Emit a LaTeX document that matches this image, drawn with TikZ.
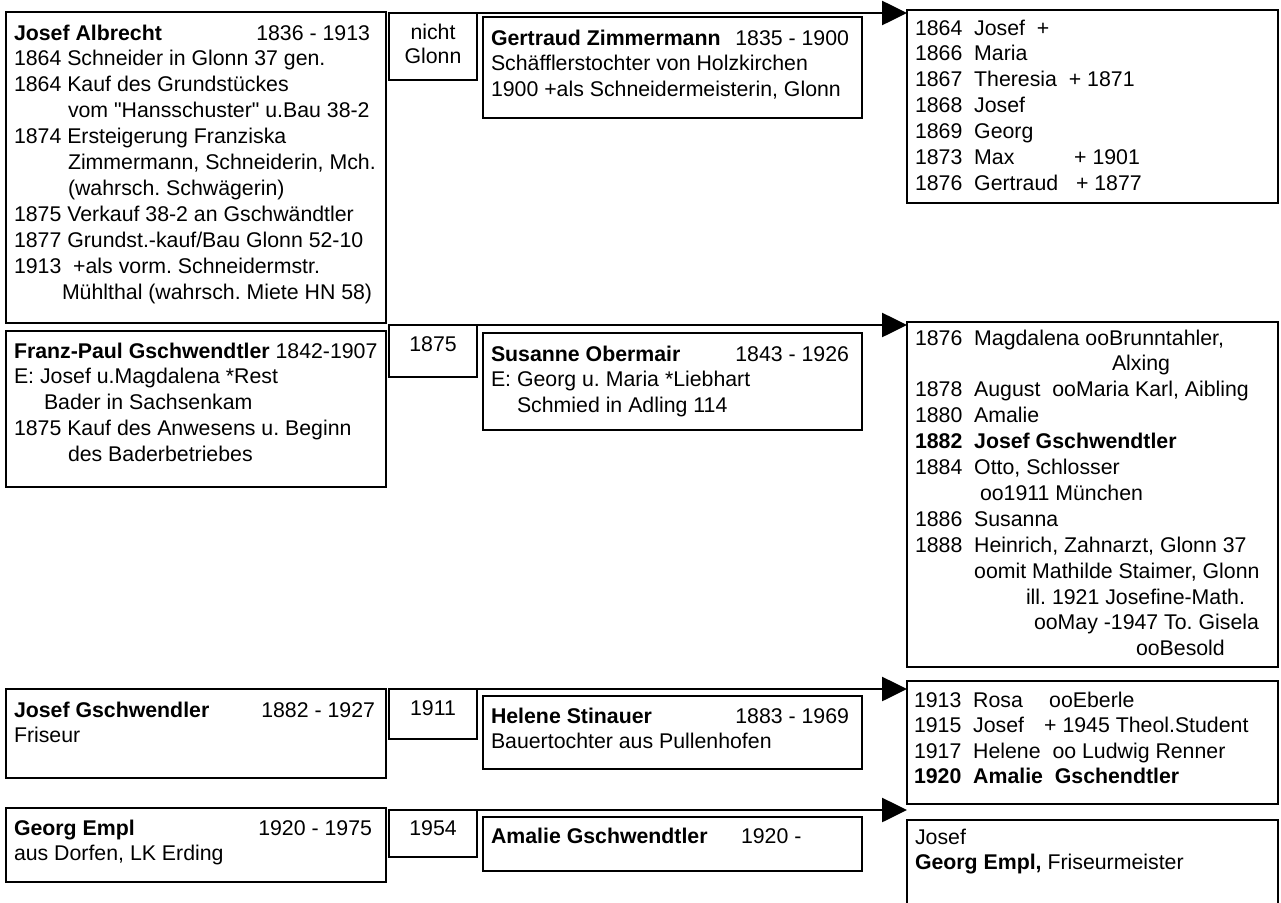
\documentclass[tikz,border=0pt]{standalone}
\usepackage{fontspec}
\setmainfont{Liberation Sans}[Ligatures=TeXOff]
\usetikzlibrary{arrows.meta}
\newcommand{\yr}[1]{\makebox[59.2pt][l]{#1}}
\newcommand{\fsz}{\fontsize{21.3}{25.9}\selectfont\frenchspacing}
\tikzset{
  box/.style={draw, line width=2.6pt, inner sep=0pt, outer sep=0pt, rectangle},
  txt/.style={inner sep=0pt, outer sep=0pt, font=\fsz},
  conn/.style={line width=2.6pt, -{Triangle[length=25pt,width=24pt]}},
}
\begin{document}
\begin{tikzpicture}[x=1pt,y=-1pt]
\useasboundingbox (0,0) rectangle (1281,902);
\clip (0,0) rectangle (1281,902);
% ---------- boxes ----------
\node[box, minimum width=380pt, minimum height=311pt] (A)  at (196,167.5) {};
\node[box, minimum width=88pt,  minimum height=67pt]  (yA) at (433,46.5) {};
\node[box, minimum width=379pt, minimum height=101pt] (sA) at (672.5,67.5) {};
\node[box, minimum width=371pt, minimum height=193pt] (cA) at (1092.5,106.5) {};

\node[box, minimum width=380pt, minimum height=156pt] (B)  at (196,409) {};
\node[box, minimum width=88pt,  minimum height=52pt]  (yB) at (433,351) {};
\node[box, minimum width=379pt, minimum height=97pt]  (sB) at (672.5,381.5) {};
\node[box, minimum width=371pt, minimum height=345pt] (cB) at (1092.5,494.5) {};

\node[box, minimum width=380pt, minimum height=89pt]  (C)  at (196,733.5) {};
\node[box, minimum width=88pt,  minimum height=50pt]  (yC) at (433,714) {};
\node[box, minimum width=379pt, minimum height=73pt]  (sC) at (672.5,732.5) {};
\node[box, minimum width=371pt, minimum height=123pt] (cC) at (1092.5,742.5) {};

\node[box, minimum width=380pt, minimum height=74pt]  (D)  at (196,845) {};
\node[box, minimum width=88pt,  minimum height=47pt]  (yD) at (433,833.5) {};
\node[box, minimum width=379pt, minimum height=54pt]  (sD) at (672.5,844) {};
\node[box, minimum width=371pt, minimum height=110pt] (cD) at (1092.5,875) {};

% ---------- connectors ----------
\draw[conn] (yA.north east) -- (yA.north east -| cA.west);
\draw[conn] (yB.north east) -- (yB.north east -| cB.west);
\draw[conn] (yC.north east) -- (yC.north east -| cC.west);
\draw[conn] (yD.north east) -- (yD.north east -| cD.west);

% ---------- row 1 ----------
\node[txt, anchor=base west] (At) at (14,40) {\parbox[t]{500pt}{\raggedright
\textbf{Josef Albrecht}\\
1864 Schneider in Glonn 37 gen.\\
1864 Kauf des Grundst\"uckes\\
\hspace*{54pt}vom "Hansschuster" u.Bau 38-2\\
1874 Ersteigerung Franziska\\
\hspace*{54pt}Zimmermann, Schneiderin, Mch.\\
\hspace*{54pt}(wahrsch. Schw\"agerin)\\
1875 Verkauf 38-2 an Gschw\"andtler\\
1877 Grundst.-kauf/Bau Glonn 52-10\\
1913\ \ +als vorm. Schneidermstr.\\
\hspace*{48pt}M\"uhlthal (wahrsch. Miete HN 58)}};
\node[txt, anchor=base east] (Ay) at (370,40) {1836 - 1913};
\node[txt, anchor=base] (yAt) at (433,39.5) {\parbox[t]{84pt}{\centering nicht\\[-2pt]Glonn}};
\node[txt, anchor=base west] (sAt) at (491,45) {\parbox[t]{500pt}{\raggedright
\textbf{Gertraud Zimmermann}\\
Sch\"afflerstochter von Holzkirchen\\
1900 +als Schneidermeisterin, Glonn}};
\node[txt, anchor=base east] (sAy) at (849,45) {1835 - 1900};
\node[txt, anchor=base west] (cAt) at (915,35) {\parbox[t]{500pt}{\raggedright
\yr{1864}Josef\ \ +\\
\yr{1866}Maria\\
\yr{1867}Theresia\ \ + 1871\\
\yr{1868}Josef\\
\yr{1869}Georg\\
\yr{1873}\makebox[100pt][l]{Max}+ 1901\\
\yr{1876}Gertraud\ \ \ + 1877}};

% ---------- row 2 ----------
\node[txt, anchor=base west] (Bt) at (14,358) {\parbox[t]{500pt}{\raggedright
\textbf{Franz-Paul Gschwendtler} 1842-1907\\
E: Josef u.Magdalena *Rest\\
\hspace*{30pt}Bader in Sachsenkam\\
1875 Kauf des Anwesens u. Beginn\\
\hspace*{54pt}des Baderbetriebes}};
\node[txt, anchor=base] (yBt) at (433,351) {1875};
\node[txt, anchor=base west] (sBt) at (491,361) {\parbox[t]{500pt}{\raggedright
\textbf{Susanne Obermair}\\
E: Georg u. Maria *Liebhart\\
\hspace*{26pt}Schmied in Adling 114}};
\node[txt, anchor=base east] (sBy) at (849,361) {1843 - 1926};
\node[txt, anchor=base west] (cBt) at (915,345) {\parbox[t]{500pt}{\raggedright
\yr{1876}Magdalena ooBrunntahler,\\
\hspace*{197pt}Alxing\\
\yr{1878}August\ \ ooMaria Karl, Aibling\\
\yr{1880}Amalie\\
\textbf{\yr{1882}Josef Gschwendtler}\\
\yr{1884}Otto, Schlosser\\
\hspace*{65pt}oo1911 M\"unchen\\
\yr{1886}Susanna\\
\yr{1888}Heinrich, Zahnarzt, Glonn 37\\
\hspace*{59.2pt}oomit Mathilde Staimer, Glonn\\
\hspace*{111pt}ill. 1921 Josefine-Math.\\
\hspace*{119pt}ooMay -1947 To. Gisela\\
\hspace*{221pt}ooBesold}};

% ---------- row 3 ----------
\node[txt, anchor=base west] (Ct) at (14,717) {\parbox[t]{500pt}{\raggedright
\textbf{Josef Gschwendler}\\
Friseur}};
\node[txt, anchor=base east] (Cy) at (375,717) {1882 - 1927};
\node[txt, anchor=base] (yCt) at (433,715) {1911};
\node[txt, anchor=base west] (sCt) at (491,723) {\parbox[t]{500pt}{\raggedright
\textbf{Helene Stinauer}\\
Bauertochter aus Pullenhofen}};
\node[txt, anchor=base east] (sCy) at (849,723) {1883 - 1969};
\node[txt, anchor=base west] (cCt) at (914,707) {\parbox[t]{500pt}{\raggedright
\yr{1913}\makebox[76pt][l]{Rosa}ooEberle\\[-0.3pt]
\yr{1915}\makebox[71pt][l]{Josef}+ 1945 Theol.Student\\[-0.3pt]
\yr{1917}Helene\ \ oo Ludwig Renner\\[-0.3pt]
\textbf{\yr{1920}Amalie\ \ Gschendtler}}};

% ---------- row 4 ----------
\node[txt, anchor=base west] (Dt) at (14,835) {\parbox[t]{500pt}{\raggedright
\textbf{Georg Empl}\\
aus Dorfen, LK Erding}};
\node[txt, anchor=base east] (Dy) at (372,835) {1920 - 1975};
\node[txt, anchor=base] (yDt) at (433,835) {1954};
\node[txt, anchor=base west] (sDt) at (491,843) {\textbf{Amalie Gschwendtler}};
\node[txt, anchor=base west] (sDy) at (741,843) {1920 -};
\node[txt, anchor=base west] (cDt) at (915,844) {\parbox[t]{500pt}{\raggedright
Josef\\
\textbf{Georg Empl,} Friseurmeister}};
\end{tikzpicture}
\end{document}
